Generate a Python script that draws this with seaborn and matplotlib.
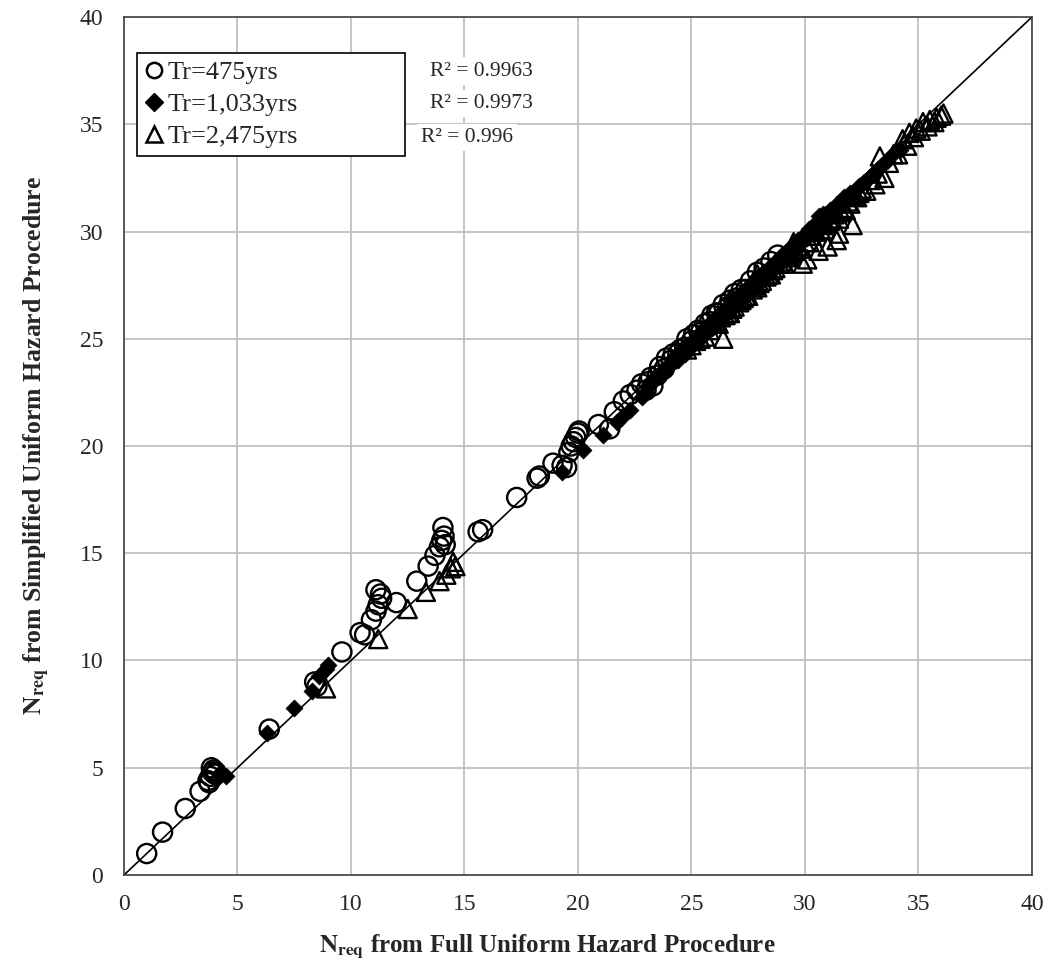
import matplotlib
matplotlib.use("Agg")
import matplotlib.pyplot as plt
from matplotlib.lines import Line2D
import seaborn as sns
import pandas as pd

SERIES = ["Tr=475yrs", "Tr=1,033yrs", "Tr=2,475yrs"]
R2_LABELS = ["R² = 0.9963", "R² = 0.9973", "R² = 0.996"]

# Tr=475yrs (open circles)
x_475 = [1.0, 1.7, 2.7, 3.35, 3.7, 3.8, 3.85, 3.9, 3.95, 4.0, 4.05, 3.75, 6.4, 8.4, 8.5,
         9.6, 10.4, 10.6, 10.9, 11.1, 11.2, 11.1, 11.3, 11.35, 12.0, 12.9, 13.4, 13.7, 13.9,
         14.0, 14.05, 14.1, 14.15, 15.6, 15.8, 17.3, 18.2, 18.3, 18.9, 19.3, 19.5, 19.6, 19.7,
         19.8, 19.9, 20.0, 20.05, 20.9, 21.4, 21.6, 22.0, 22.3, 22.6, 22.8, 23.0, 23.1, 23.2,
         23.3, 23.5, 23.8, 24.1, 24.4, 24.7, 25.0, 25.4, 25.8, 26.2, 26.6, 27.0, 27.4,
         23.6, 23.9, 24.2, 24.5, 24.8, 25.1, 25.3, 25.6, 25.9, 26.1, 26.4, 26.7, 26.9, 27.2,
         27.6, 27.9, 28.2, 28.5, 28.8]
y_475 = [1.0, 2.0, 3.1, 3.9, 4.4, 4.6, 5.0, 4.8, 4.9, 4.7, 4.8, 4.3, 6.8, 9.0, 8.8,
         10.4, 11.3, 11.2, 11.9, 12.3, 12.6, 13.3, 13.1, 12.9, 12.7, 13.7, 14.4, 14.9, 15.3,
         15.6, 16.2, 15.8, 15.4, 16.0, 16.1, 17.6, 18.5, 18.6, 19.2, 19.1, 19.0, 19.7, 20.0,
         20.2, 20.4, 20.6, 20.7, 21.0, 20.8, 21.6, 22.1, 22.4, 22.6, 22.9, 22.6, 23.0, 23.2,
         22.8, 23.3, 23.6, 24.0, 24.3, 24.6, 24.9, 25.3, 25.8, 26.2, 26.5, 26.9, 27.3,
         23.7, 24.1, 24.3, 24.5, 25.0, 25.2, 25.4, 25.7, 26.1, 26.2, 26.6, 26.8, 27.1, 27.3,
         27.7, 28.1, 28.3, 28.6, 28.9]

# Tr=1,033yrs (filled diamonds)
x_1033 = [4.2, 4.5, 6.3, 7.5, 8.3, 8.6, 8.9, 9.0, 19.3, 20.2, 21.1, 21.7, 21.9, 22.3, 22.8,
          23.0, 23.4, 23.8, 24.0, 24.3, 24.6, 24.9, 25.2, 25.5, 25.8, 26.1, 26.4, 26.7, 27.0,
          27.3, 27.6, 27.9, 28.2, 28.5, 28.8, 29.1, 29.4, 29.7, 30.0, 30.3, 30.6, 30.9, 31.2,
          31.5, 31.8, 32.2, 32.6, 33.0, 33.4, 33.8, 34.2,
          23.1, 23.3, 23.5, 23.7, 23.9, 24.1, 24.2, 24.4, 24.5, 24.7, 24.8, 25.0, 25.1, 25.3,
          25.4, 25.6, 25.7, 25.9, 26.0, 26.2, 26.3, 26.5, 26.6, 26.8, 26.9, 27.1, 27.2, 27.4,
          27.5, 27.7, 27.8, 28.0, 28.1, 28.3, 28.4, 28.6, 28.7, 28.9, 29.0, 29.2, 29.3, 29.5,
          29.6, 29.8, 29.9, 30.1, 30.2, 30.4, 30.5, 30.7, 30.8, 31.0, 31.1, 31.3, 31.4, 31.6,
          31.7, 31.9, 32.0, 32.4, 32.8, 33.2, 33.6]
y_1033 = [4.7, 4.6, 6.6, 7.8, 8.6, 9.3, 9.6, 9.8, 18.8, 19.8, 20.5, 21.1, 21.3, 21.7, 22.3,
          22.5, 23.2, 23.4, 23.8, 24.1, 24.5, 24.6, 25.0, 25.4, 25.6, 26.0, 26.3, 26.8, 26.9,
          27.2, 27.5, 27.9, 28.1, 28.4, 28.6, 29.0, 29.3, 29.6, 29.8, 30.2, 30.7, 30.5, 30.9,
          31.2, 31.5, 31.9, 32.3, 32.7, 33.1, 33.5, 33.8,
          22.8, 23.1, 23.2, 23.5, 23.6, 23.8, 24.1, 24.0, 24.4, 24.3, 24.7, 24.6, 25.0, 24.9,
          25.3, 25.2, 25.6, 25.5, 25.9, 25.8, 26.2, 26.1, 26.5, 26.4, 26.8, 26.7, 27.1, 27.0,
          27.4, 27.3, 27.7, 27.6, 28.0, 27.9, 28.3, 28.2, 28.6, 28.5, 28.9, 28.8, 29.2, 29.1,
          29.5, 29.4, 29.8, 29.7, 30.1, 29.9, 30.4, 30.3, 30.8, 30.6, 31.0, 30.9, 31.3, 31.2,
          31.6, 31.5, 31.8, 32.1, 32.5, 32.9, 33.3]

# Tr=2,475yrs (open triangles)
x_2475 = [8.9, 11.2, 12.5, 13.3, 13.9, 14.2, 14.4, 14.5, 14.6, 24.8, 25.2, 25.6, 26.0, 26.3,
          26.4, 26.6, 26.9, 27.2, 27.5, 27.8, 27.9, 28.1, 28.4, 28.7, 29.0, 29.3, 29.5, 29.6,
          29.9, 30.1, 30.6, 31.0, 31.4, 31.5, 32.1, 30.4, 30.8, 31.2, 31.6, 32.0, 32.3, 32.7,
          33.1, 33.5, 33.3, 33.9, 34.3, 34.6, 34.9, 35.2, 35.5, 35.8, 36.1,
          25.0, 25.4, 25.8, 26.1, 26.5, 26.8, 27.1, 27.4, 27.7, 28.0, 28.3, 28.6, 28.9, 29.2,
          29.4, 29.7, 30.0, 30.3, 30.5, 30.9, 31.1, 31.3, 31.7, 31.9, 32.2, 32.5, 32.9, 33.2,
          33.7, 34.1, 34.5, 34.8, 35.1, 35.4, 35.7, 36.0,
          26.2, 26.7, 27.3, 27.9, 28.5, 29.1, 29.8, 30.2, 30.7, 31.5, 31.8, 32.4]
y_2475 = [8.7, 11.0, 12.4, 13.2, 13.7, 14.0, 14.3, 14.6, 14.4, 24.5, 24.9, 25.1, 25.7, 26.0,
          25.0, 26.2, 26.5, 26.8, 27.0, 27.5, 28.0, 27.7, 28.0, 28.3, 28.6, 28.9, 29.5, 29.1,
          28.5, 28.7, 29.1, 29.3, 29.6, 29.9, 30.3, 30.0, 30.3, 30.6, 30.9, 31.3, 31.6, 31.9,
          32.2, 32.5, 33.5, 33.6, 34.3, 34.6, 34.8, 35.1, 35.2, 35.3, 35.5,
          24.7, 25.0, 25.4, 25.8, 26.1, 26.4, 26.7, 27.0, 27.3, 27.6, 27.9, 28.2, 28.5, 28.8,
          29.0, 29.3, 29.5, 29.8, 30.0, 30.4, 30.5, 30.8, 31.1, 31.4, 31.7, 32.0, 32.4, 32.7,
          33.2, 33.6, 34.0, 34.4, 34.7, 34.9, 35.1, 35.4,
          25.7, 26.2, 26.9, 27.4, 28.0, 28.5, 29.2, 29.5, 30.1, 30.6, 31.0, 31.8]

df = pd.concat([
    pd.DataFrame({"full": x_475, "simp": y_475, "series": SERIES[0]}),
    pd.DataFrame({"full": x_1033, "simp": y_1033, "series": SERIES[1]}),
    pd.DataFrame({"full": x_2475, "simp": y_2475, "series": SERIES[2]}),
])

sns.set_style("white")
plt.rcParams["font.family"] = ["Liberation Serif", "DejaVu Serif"]
plt.rcParams["mathtext.fontset"] = "stix"

fig = plt.figure(figsize=(10.57, 9.72), dpi=100)
ax = fig.add_axes([0.1173, 0.0998, 0.859, 0.8827])

ax.plot([0, 40], [0, 40], color="black", lw=1.2, zorder=1)

styles = {
    SERIES[0]: dict(marker="o", s=190, facecolor="none", edgecolor="black", linewidth=1.7),
    SERIES[1]: dict(marker="D", s=75, color="black", edgecolor="black", linewidth=0.5),
    SERIES[2]: dict(marker="^", s=170, facecolor="none", edgecolor="black", linewidth=1.7),
}
for name in [SERIES[2], SERIES[1], SERIES[0]]:
    sub = df[df["series"] == name]
    sns.scatterplot(data=sub, x="full", y="simp", ax=ax, zorder=3,
                    legend=False, **styles[name])

ax.set_xlim(0, 40)
ax.set_ylim(0, 40)
ax.set_xticks(range(0, 41, 5))
ax.set_yticks(range(0, 41, 5))
ax.grid(True, color="#c0c0c0", lw=1.3, zorder=0)
ax.set_axisbelow(True)
for sp in ax.spines.values():
    sp.set_color("#404040")
    sp.set_linewidth(1.2)
ax.tick_params(axis="both", labelsize=17, length=5, width=1, color="#404040",
               direction="out")
ax.tick_params(axis="x", pad=9)
ax.tick_params(axis="y", pad=10)

ax.set_xlabel(r"$\mathbf{N}_{\mathbf{req}}$ from Full Uniform Hazard Procedure",
              fontsize=18, fontweight="bold")
ax.set_ylabel(r"$\mathbf{N}_{\mathbf{req}}$ from Simplified Uniform Hazard Procedure",
              fontsize=18.5, fontweight="bold", labelpad=20)
ax.xaxis.set_label_coords(0.466, -0.067)

# legend
handles = [
    Line2D([], [], ls="none", marker="o", ms=11, mfc="none", mec="black", mew=1.8),
    Line2D([], [], ls="none", marker="D", ms=9, mfc="black", mec="black"),
    Line2D([], [], ls="none", marker="^", ms=12, mfc="none", mec="black", mew=1.8),
]
leg = ax.legend(handles, SERIES, loc="upper left", bbox_to_anchor=(0.0143, 0.958, 0.295, 0.0),
                mode="expand", borderaxespad=0, fontsize=19, handlelength=0.7,
                handletextpad=0.15, labelspacing=0.32, borderpad=0.3, fancybox=False,
                framealpha=1, edgecolor="black")
leg.get_frame().set_linewidth(1.2)

r2_pos = [(0.394, 0.937), (0.394, 0.899), (0.378, 0.860)]
for lab, (px, py) in zip(R2_LABELS, r2_pos):
    ax.text(px, py, lab, transform=ax.transAxes, ha="center", va="center", fontsize=15.5,
            bbox=dict(facecolor="white", edgecolor="none", pad=3), zorder=4)

plt.savefig("out.png", dpi=100)
plt.close()
